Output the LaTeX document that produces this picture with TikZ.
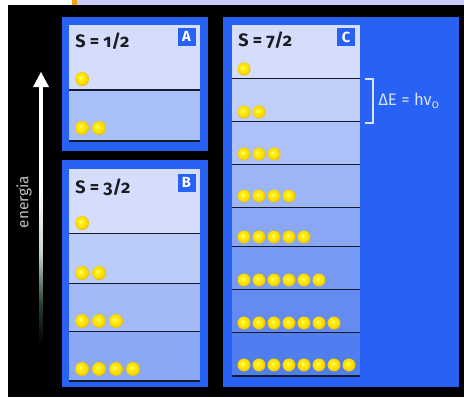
\documentclass[tikz,border=0pt]{standalone}
\usepackage{fontspec}
\setsansfont{Fira Sans}[Numbers=OldStyle]
\definecolor{boxblue}{RGB}{40,98,244}
\definecolor{lav}{RGB}{204,204,250}
\definecolor{orng}{RGB}{240,165,10}
\definecolor{pl}{RGB}{212,222,252}
\definecolor{aD}{RGB}{170,192,248}
\definecolor{bD}{RGB}{138,168,244}
\definecolor{cD}{RGB}{80,125,240}
\definecolor{linec}{RGB}{22,26,45}
\definecolor{titlec}{RGB}{28,28,34}
\definecolor{dEc}{RGB}{215,226,255}
\definecolor{enc}{RGB}{190,192,194}
\definecolor{bhi}{RGB}{255,255,210}
\definecolor{bmid}{RGB}{255,244,30}
\definecolor{bmid2}{RGB}{252,220,0}
\definecolor{bedge}{RGB}{230,175,0}
\definecolor{fadeA}{RGB}{40,62,62}
\definecolor{fadeB}{RGB}{200,214,214}
\pgfdeclareradialshading{ballsh}{\pgfpoint{-6bp}{6bp}}{color(0bp)=(bhi); color(5bp)=(bmid); color(20bp)=(bmid2); color(28bp)=(bedge); color(50bp)=(bedge)}
\pgfdeclareverticalshading{arrowfade}{100bp}{color(0bp)=(black); color(25bp)=(black); color(33bp)=(fadeA); color(43bp)=(fadeB); color(55bp)=(white); color(100bp)=(white)}
\tikzset{
  panelline/.style={draw=linec, line width=1.9pt},
  ball/.style={shading=ballsh},
  title/.style={anchor=west, font=\sffamily\bfseries\fontsize{13.5}{16}\selectfont, text=titlec, inner sep=0pt},
  badge/.style={fill=boxblue, text=white, font=\sffamily\bfseries\fontsize{11}{13}\selectfont, minimum width=13.5pt, minimum height=13.5pt, inner sep=0pt},
  dElab/.style={anchor=west, text=dEc, font=\sffamily\fontsize{12.5}{15}\selectfont, inner sep=0pt},
  enlab/.style={rotate=90, text=enc, font=\sffamily\fontsize{11.5}{14}\selectfont, inner sep=0pt},
  bracket/.style={draw=dEc, line width=1pt},
}
\begin{document}
\begin{tikzpicture}[x=0.75pt,y=-0.75pt]
\useasboundingbox (0,0) rectangle (464,397);
% background
\fill[white] (0,0) rectangle (464,397);
\fill[black] (8,5) rectangle (464,397);
\fill[orng] (72,0) rectangle (77,5);
\fill[lav] (77,0) rectangle (464,5);
% energy arrow
\shade[shading=arrowfade] (39.5,86) rectangle (42.5,345);
\fill[white] (33,87) -- (49,87) -- (41,72) -- cycle;
\node[enlab] (en) at (24,202) {energia};
% ---------- box A
\fill[boxblue] (62,17) rectangle (208,151);
\fill[pl] (69,25) rectangle (200,90);
\fill[aD] (69,90) rectangle (200,141);
\draw[panelline] (69,90) -- (200,90);
\draw[panelline] (69,141) -- (200,141);
\foreach \n/\y in {1/79,2/128}
  \foreach \k in {1,...,\n}
    \shade[ball] ({82+17*(\k-1)},\y) circle (5.25pt);
\node[title] (tA) at (75,41.5) {S = 1/2};
\node[badge] (bA) at (186.5,36.5) {A};
% ---------- box B
\fill[boxblue] (62,160) rectangle (208,387);
\foreach \t/\b/\i in {169/234/0,234/284/1,284/332/2,332/381/3}{
  \pgfmathsetmacro\p{100-\i*100/3}
  \fill[pl!\p!bD] (69,\t) rectangle (200,\b);
  \draw[panelline] (69,\b) -- (200,\b);
}
\foreach \n/\y in {1/223,2/273,3/321,4/369}
  \foreach \k in {1,...,\n}
    \shade[ball] ({82+17*(\k-1)},\y) circle (5.25pt);
\node[title] (tB) at (75,187) {S = 3/2};
\node[badge] (bB) at (186.5,182.5) {B};
% ---------- box C
\fill[boxblue] (223,17) rectangle (459,387);
\foreach \t/\b/\i in {25/79/0,79/122/1,122/165/2,165/208/3,208/247/4,247/290/5,290/333/6,333/376/7}{
  \pgfmathsetmacro\p{100-\i*100/7}
  \fill[pl!\p!cD] (232,\t) rectangle (360,\b);
  \draw[panelline] (232,\b) -- (360,\b);
}
\foreach \n/\y in {1/69,2/112,3/154,4/196,5/237,6/280,7/323,8/365}
  \foreach \k in {1,...,\n}
    \shade[ball] ({244+15*(\k-1)},\y) circle (4.9pt);
\node[title] (tC) at (238,40.5) {S = 7/2};
\node[badge] (bC) at (346,37) {C};
% bracket and label
\coordinate (brt) at (365,79);
\coordinate (brb) at (365,123);
\draw[bracket] (brt) -- ++(8,0) |- (brb);
\node[dElab] (dE) at (378,101) {ΔE = hν\textsubscript{0}};
\end{tikzpicture}
\end{document}
